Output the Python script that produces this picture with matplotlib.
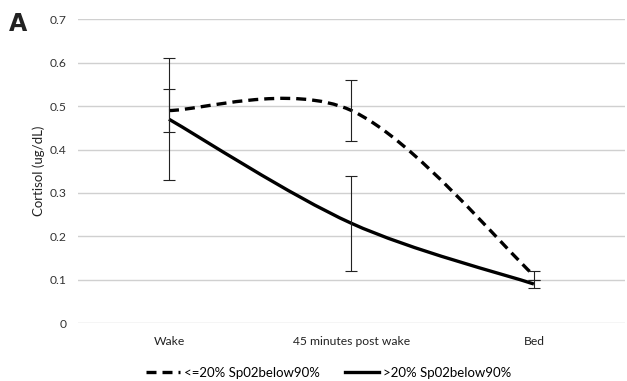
import matplotlib
matplotlib.use("Agg")
import matplotlib.pyplot as plt
from matplotlib.path import Path
from matplotlib.patches import PathPatch
from matplotlib.lines import Line2D
import numpy as np

categories = ["Wake", "45 minutes post wake", "Bed"]
low_vals = [0.49, 0.49, 0.11]      # <=20% Sp02below90%
low_err = [0.05, 0.07, 0.01]
high_vals = [0.47, 0.23, 0.09]     # >20% Sp02below90%
high_err = [0.14, 0.11, 0.01]
series_names = ["<=20% Sp02below90%", ">20% Sp02below90%"]
yticks = [0, 0.1, 0.2, 0.3, 0.4, 0.5, 0.6, 0.7]

plt.rcParams['font.family'] = ['Lato', 'DejaVu Sans']

fig = plt.figure(figsize=(6.27, 3.81), dpi=100)
ax = fig.add_axes([0.124, 0.152, 0.873, 0.797])
x = np.arange(len(categories))


def smooth_path(xs, ys):
    pts = np.column_stack([xs, ys]).astype(float)
    n = len(pts)
    verts = [pts[0]]
    codes = [Path.MOVETO]
    for i in range(n - 1):
        p0 = pts[i - 1] if i > 0 else pts[i]
        p1 = pts[i]
        p2 = pts[i + 1]
        p3 = pts[i + 2] if i + 2 < n else pts[i + 1]
        c1 = p1 + (p2 - p0) / 6.0
        c2 = p2 - (p3 - p1) / 6.0
        verts += [c1, c2, p2]
        codes += [Path.CURVE4] * 3
    return Path(verts, codes)


for vals, errs, ls in [(low_vals, low_err, (0, (3, 1.8))), (high_vals, high_err, '-')]:
    patch = PathPatch(smooth_path(x, vals), facecolor='none', edgecolor='black',
                      linewidth=2.4, linestyle=ls, zorder=3, capstyle='butt')
    ax.add_patch(patch)
    ax.errorbar(x, vals, yerr=errs, fmt='none', ecolor='#222222', elinewidth=0.8,
                capsize=4, capthick=0.8, zorder=4)

ax.set_xlim(-0.5, 2.5)
ax.set_ylim(0, 0.7)
ax.set_yticks(yticks)
ax.set_yticklabels(["0" if v == 0 else f"{v:.1f}" for v in yticks], fontsize=8.7, color='#333333')
ax.set_xticks(x)
ax.set_xticklabels(categories, fontsize=8.7, color='#222222')
ax.tick_params(length=0, pad=8, axis='y')
ax.tick_params(length=0, pad=9, axis='x')
ax.grid(axis='y', color='#d0d0d0', linewidth=1)
ax.set_axisbelow(True)
for s in ax.spines.values():
    s.set_visible(False)
ax.set_ylabel("Cortisol (ug/dL)", fontsize=9.5, color='#222222', labelpad=3)

handles = [Line2D([], [], color='black', lw=2.4, linestyle=(0, (3, 1.8))),
           Line2D([], [], color='black', lw=2.4)]
fig.legend(handles, series_names, loc='center', bbox_to_anchor=(0.524, 0.022), ncol=2,
           frameon=False, fontsize=9.5, handlelength=2.6, handletextpad=0.3,
           columnspacing=1.9)

fig.text(0.014, 0.918, "A", fontsize=17, fontweight='bold', family='DejaVu Sans',
         color='#222222')

fig.savefig("out.png", dpi=100)
